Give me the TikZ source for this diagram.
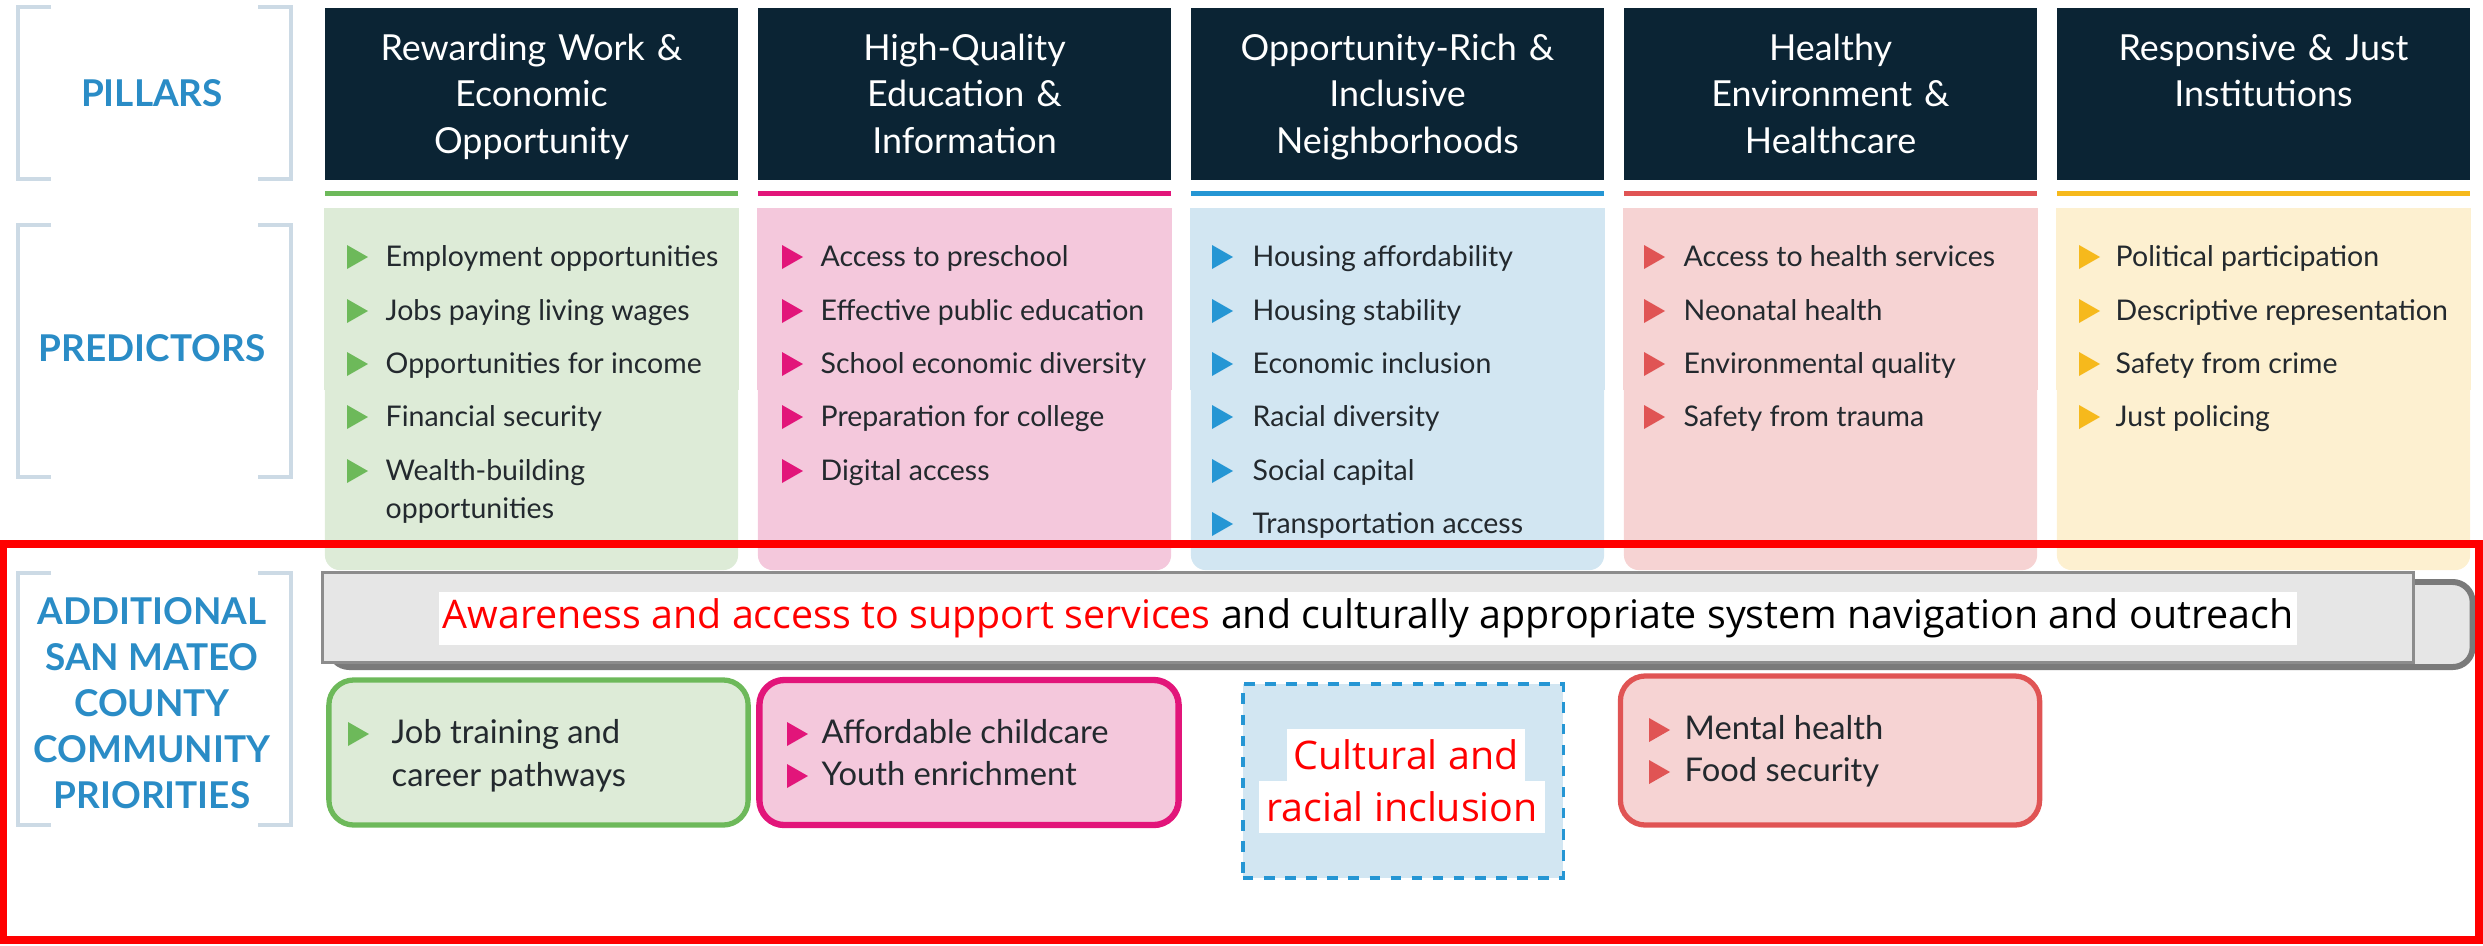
\documentclass[tikz,border=0pt]{standalone}
\usepackage{fontspec}
\setmainfont{Lato}
\newfontfamily\aptos{Open Sans}
\usetikzlibrary{calc}
\definecolor{navy}{HTML}{0B2434}
\definecolor{gr}{HTML}{6DB95A}\definecolor{grfill}{HTML}{DDEBD7}
\definecolor{pk}{HTML}{E2157A}\definecolor{pkfill}{HTML}{F4C8DC}
\definecolor{bl}{HTML}{2596D4}\definecolor{blfill}{HTML}{D2E6F2}
\definecolor{rd}{HTML}{E05454}\definecolor{rdfill}{HTML}{F6D3D3}
\definecolor{yl}{HTML}{F6B91C}\definecolor{ylfill}{HTML}{FDF0D0}
\definecolor{lbl}{HTML}{2A8CC6}
\definecolor{brk}{HTML}{CCDAE5}
\definecolor{txt}{HTML}{23292E}
\definecolor{barfill}{HTML}{E6E6E6}
\definecolor{barline}{HTML}{8C8C8C}
\definecolor{barshade}{HTML}{7A7A7A}
\newcommand{\pitem}[7]{%
  \node[#6, anchor=base west] (#1) at (#3,#4) {#5};
  \fill[#2] ($(#1.base west)+(#7,-21)$) -- ++(21,12) -- ++(-21,12) -- cycle;}
\begin{document}
\begin{tikzpicture}[x=0.01cm,y=-0.01cm,
  pillar/.style={fill=navy, minimum width=4.13cm, minimum height=1.72cm, inner sep=0pt},
  ttl/.style={text=white, text width=4.0cm, align=center, inner sep=0pt, font=\fontsize{10.2}{13.3}\selectfont},
  pbox/.style={minimum width=4.13cm, minimum height=3.61cm, rounded corners=0.15cm, inner sep=0pt},
  itm/.style={text=txt, inner sep=0pt, font=\fontsize{8.1}{10}\selectfont},
  bitm/.style={text=txt, inner sep=0pt, font=\fontsize{9.3}{11}\selectfont},
  lab/.style={text=lbl, align=center, font=\bfseries\fontsize{10.5}{13}\selectfont},
  brack/.style={draw=brk, line width=1.4pt},
  prio/.style={minimum width=4.19cm, minimum height=1.45cm, rounded corners=0.25cm, line width=1.5pt},
  aw/.style={fill=white, inner xsep=1pt, inner ysep=0pt, minimum height=0.53cm, font=\aptos\fontsize{11.2}{13}\selectfont},
  cult/.style={fill=white, text=red, inner xsep=2pt, inner ysep=0pt, minimum height=0.52cm, font=\aptos\fontsize{11.2}{13}\selectfont}
]
\useasboundingbox (0,0) rectangle (2483,945);

% ---------- brackets and labels ----------
\draw[brack] (51,7) -- (18,7) -- (18,179) -- (51,179);
\draw[brack] (258,7) -- (291,7) -- (291,179) -- (258,179);
\node[lab] (lpil) at (152,93) {PILLARS};
\draw[brack] (51,225) -- (18,225) -- (18,477) -- (51,477);
\draw[brack] (258,225) -- (291,225) -- (291,477) -- (258,477);
\node[lab] (lpre) at (152,348) {PREDICTORS};
\draw[brack] (51,573) -- (18,573) -- (18,825) -- (51,825);
\draw[brack] (258,573) -- (291,573) -- (291,825) -- (258,825);
\node[lab, font=\bfseries\fontsize{10.5}{13.1}\selectfont] (ladd) at (152,703) {ADDITIONAL\\SAN MATEO\\COUNTY\\COMMUNITY\\PRIORITIES};

% ---------- pillar headers ----------
\foreach \i/\cx/\c in {1/531.5/gr,2/964.5/pk,3/1397.5/bl,4/1830.5/rd,5/2263.5/yl}{
  \node[pillar] (h\i) at (\cx,94) {};
  \fill[\c] (\cx-206.5,190.5) rectangle (\cx+206.5,195.5);
}
\node[ttl, anchor=base] (t1) at (h1.north |- 0,60) {Rewarding Work \&\\Economic\\Opportunity};
\node[ttl, anchor=base] (t2) at (h2.north |- 0,60) {High-Quality\\Education \&\\Information};
\node[ttl, anchor=base] (t3) at (h3.north |- 0,60) {Opportunity-Rich \&\\Inclusive\\Neighborhoods};
\node[ttl, anchor=base] (t4) at (h4.north |- 0,60) {Healthy\\Environment \&\\Healthcare};
\node[ttl, anchor=base] (t5) at (h5.north |- 0,60) {Responsive \& Just\\Institutions};

% ---------- predictor boxes ----------
\foreach \i/\cx/\c in {1/531.5/grfill,2/964.5/pkfill,3/1397.5/blfill,4/1830.5/rdfill,5/2263.5/ylfill}{
  \node[pbox, fill=\c] (pb\i) at (\cx,389.5) {};
  \fill[\c] (pb\i.north west) rectangle (pb\i.east);
}

% column 1
\pitem{a1}{gr}{385}{266}{Employment opportunities}{itm}{-38}
\pitem{a2}{gr}{385}{320}{Jobs paying living wages}{itm}{-38}
\pitem{a3}{gr}{385}{373}{Opportunities for income}{itm}{-38}
\pitem{a4}{gr}{385}{426}{Financial security}{itm}{-38}
\pitem{a5}{gr}{385}{480}{Wealth-building}{itm}{-38}
\node[itm, anchor=base west] (a5b) at (385,518) {opportunities};
% column 2
\pitem{b1}{pk}{820}{266}{Access to preschool}{itm}{-38}
\pitem{b2}{pk}{820}{320}{Effective public education}{itm}{-38}
\pitem{b3}{pk}{820}{373}{School economic diversity}{itm}{-38}
\pitem{b4}{pk}{820}{426}{Preparation for college}{itm}{-38}
\pitem{b5}{pk}{820}{480}{Digital access}{itm}{-38}
% column 3
\pitem{c1}{bl}{1252}{266}{Housing affordability}{itm}{-40}
\pitem{c2}{bl}{1252}{320}{Housing stability}{itm}{-40}
\pitem{c3}{bl}{1252}{373}{Economic inclusion}{itm}{-40}
\pitem{c4}{bl}{1252}{426}{Racial diversity}{itm}{-40}
\pitem{c5}{bl}{1252}{480}{Social capital}{itm}{-40}
\pitem{c6}{bl}{1252}{533}{Transportation access}{itm}{-40}
% column 4
\pitem{d1}{rd}{1683}{266}{Access to health services}{itm}{-39}
\pitem{d2}{rd}{1683}{320}{Neonatal health}{itm}{-39}
\pitem{d3}{rd}{1683}{373}{Environmental quality}{itm}{-39}
\pitem{d4}{rd}{1683}{426}{Safety from trauma}{itm}{-39}
% column 5
\pitem{e1}{yl}{2115}{266}{Political participation}{itm}{-36}
\pitem{e2}{yl}{2115}{320}{Descriptive representation}{itm}{-36}
\pitem{e3}{yl}{2115}{373}{Safety from crime}{itm}{-36}
\pitem{e4}{yl}{2115}{426}{Just policing}{itm}{-36}

% ---------- grey bar ----------
\node[fill=barfill, draw=barshade, line width=1.7pt, rounded corners=0.2cm, minimum width=21.42cm, minimum height=0.85cm, inner sep=0pt] (barsh) at (1401,624.5) {};
\node[fill=barfill, draw=barline, line width=0.85pt, minimum width=20.90cm, minimum height=0.89cm, inner sep=0pt] (bar) at (1368,617.5) {};
\node[aw] (aware) at (1368,618.5) {\textcolor{red}{Awareness and access to support services} and culturally appropriate system navigation and outreach};

% ---------- priority boxes ----------
\node[prio, fill=grfill, draw=gr] (q1) at (538.5,752.5) {};
\node[prio, fill=pkfill, draw=pk, line width=1.8pt] (q2) at (969,752.5) {};
\node[prio, fill=rdfill, draw=rd, minimum height=1.49cm] (q4) at (1830,750.5) {};
\node[fill=blfill, draw=bl, dashed, line width=0.9pt, minimum width=3.2cm, minimum height=1.94cm, inner sep=0pt] (q3) at (1403,781) {};

\pitem{j1}{gr}{391}{743}{Job training and}{bitm}{-43}
\node[bitm, anchor=base west] (j2) at (391,786) {career pathways};
\pitem{k1}{pk}{821}{743}{Affordable childcare}{bitm}{-34}
\pitem{k2}{pk}{821}{785}{Youth enrichment}{bitm}{-34}
\pitem{m1}{rd}{1684}{739}{Mental health}{bitm}{-35}
\pitem{m2}{rd}{1684}{781}{Food security}{bitm}{-35}

\node[cult] (cul1) at (1406,754.5) {Cultural and};
\node[cult] (cul2) at (1402,806.5) {racial inclusion};

% ---------- red frame ----------
\node[draw=red, line width=2.3pt, minimum width=24.74cm, minimum height=3.96cm, inner sep=0pt] (frame) at (1241,742) {};
\end{tikzpicture}
\end{document}
